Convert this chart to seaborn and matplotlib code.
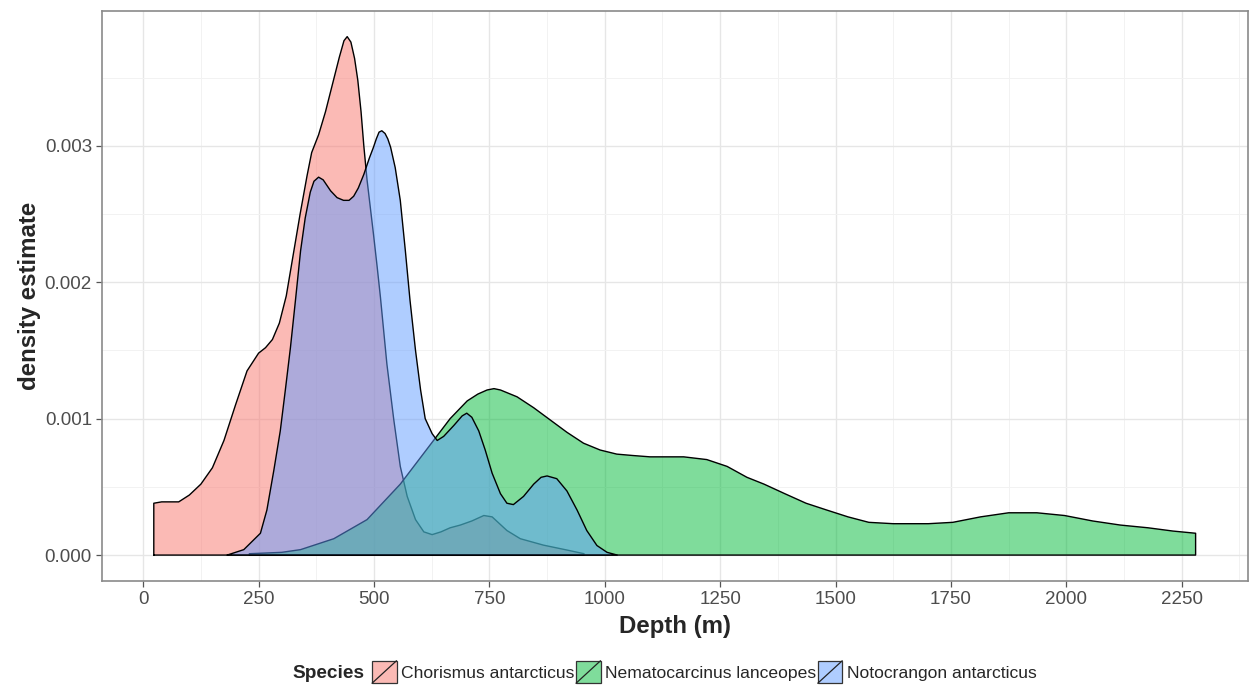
import numpy as np
import pandas as pd
import seaborn as sns
import matplotlib
matplotlib.use("Agg")
import matplotlib.pyplot as plt
from matplotlib.patches import Patch, Rectangle
from matplotlib.lines import Line2D
from matplotlib.legend_handler import HandlerBase
from matplotlib.colors import to_rgba

# Kernel density estimates of depth per species (depth in m, density per m)
species = ["Chorismus antarcticus", "Nematocarcinus lanceopes", "Notocrangon antarcticus"]
colors = ["#F8766D", "#00BA38", "#619CFF"]

chorismus_depth = [23, 40, 77, 100, 125, 150, 175, 200, 225, 250, 265, 280, 295, 310,
                   325, 340, 355, 365, 380, 395, 410, 425, 435, 442, 450, 458, 465,
                   472, 478, 485, 492, 499, 507, 514, 528, 543, 557, 572, 590, 608,
                   626, 645, 665, 687, 712, 738, 756, 788, 817, 867, 918, 955]
chorismus_dens = [0.00038, 0.00039, 0.00039, 0.00044, 0.00052, 0.00064, 0.00084, 0.00110,
                  0.00135, 0.00148, 0.00152, 0.00158, 0.00170, 0.00190, 0.00220, 0.00250,
                  0.00278, 0.00295, 0.00308, 0.00325, 0.00345, 0.00365, 0.00377, 0.00380,
                  0.00376, 0.00364, 0.00348, 0.00325, 0.00300, 0.00275, 0.00255, 0.00235,
                  0.00211, 0.00189, 0.00140, 0.00099, 0.00065, 0.00043, 0.00026, 0.00017,
                  0.00015, 0.00017, 0.00020, 0.00022, 0.00025, 0.00029, 0.00028, 0.00018,
                  0.00012, 0.000073, 0.000037, 0.00001]

nematocarcinus_depth = [230, 300, 341, 413, 485, 557, 593, 629, 665, 702, 725, 745, 760,
                        774, 810, 846, 882, 918, 954, 990, 1026, 1060, 1098, 1135, 1171,
                        1221, 1265, 1308, 1345, 1390, 1436, 1481, 1527, 1572, 1625, 1701,
                        1754, 1814, 1875, 1936, 1996, 2057, 2117, 2177, 2231, 2280]
nematocarcinus_dens = [0.00001, 0.00002, 0.00004, 0.00012, 0.00026, 0.00052, 0.00068,
                       0.00084, 0.00100, 0.00113, 0.00118, 0.00121, 0.00122, 0.00121,
                       0.00116, 0.00108, 0.00099, 0.00090, 0.00082, 0.00077, 0.00074,
                       0.00073, 0.00072, 0.00072, 0.00072, 0.00070, 0.00065, 0.00057,
                       0.00052, 0.00045, 0.00038, 0.00033, 0.00028, 0.00024, 0.00023,
                       0.00023, 0.00024, 0.00028, 0.00031, 0.00031, 0.00029, 0.00025,
                       0.00022, 0.00020, 0.000176, 0.00016]

notocrangon_depth = [182, 218, 254, 268, 283, 297, 308, 319, 330, 341, 351, 362, 370,
                     380, 390, 406, 420, 434, 446, 456, 466, 478, 490, 499, 505, 511,
                     517, 524, 530, 536, 546, 557, 568, 578, 590, 601, 611, 626, 637,
                     651, 673, 691, 701, 712, 727, 741, 756, 774, 788, 802, 824, 846,
                     862, 875, 896, 918, 940, 961, 983, 1005, 1027]
notocrangon_dens = [0.0, 0.00004, 0.00016, 0.00033, 0.00062, 0.00091, 0.00121, 0.00152,
                    0.00187, 0.00223, 0.00247, 0.00266, 0.00274, 0.00277, 0.00275,
                    0.00267, 0.00262, 0.00260, 0.00260, 0.00263, 0.00269, 0.00279,
                    0.00291, 0.00299, 0.00305, 0.00310, 0.00311, 0.00309, 0.00305,
                    0.00299, 0.00284, 0.00260, 0.00223, 0.00187, 0.00150, 0.00121,
                    0.00100, 0.00089, 0.00084, 0.00087, 0.00095, 0.00102, 0.00104,
                    0.00101, 0.00091, 0.00077, 0.00060, 0.00045, 0.00038, 0.00037,
                    0.00043, 0.00052, 0.00057, 0.00058, 0.00056, 0.00047, 0.00033,
                    0.00018, 0.00007, 0.00002, 0.0]

x_ticks = [0, 250, 500, 750, 1000, 1250, 1500, 1750, 2000, 2250]
y_ticks = [0.000, 0.001, 0.002, 0.003]

curves = [(chorismus_depth, chorismus_dens),
          (nematocarcinus_depth, nematocarcinus_dens),
          (notocrangon_depth, notocrangon_dens)]

sns.set_theme(style="white")
plt.rcParams["font.family"] = ["Liberation Sans", "DejaVu Sans"]

W, H = 1249, 687
fig = plt.figure(figsize=(W / 100, H / 100), dpi=100)
ax = fig.add_axes([101.7 / W, 1 - 581 / H, (1247.7 - 101.7) / W, (581 - 10.7) / H])


class SlashKey(HandlerBase):
    """Filled legend key with a diagonal stroke, as in a density-area key."""
    def create_artists(self, legend, orig_handle, xdescent, ydescent,
                       width, height, fontsize, trans):
        x0, y0 = -xdescent, -ydescent
        box = Rectangle((x0, y0), width, height,
                        facecolor=orig_handle.get_facecolor(),
                        edgecolor="#333333", lw=0.9, transform=trans)
        slash = Line2D([x0, x0 + width], [y0, y0 + height],
                       color="#222222", lw=0.9, transform=trans)
        return [box, slash]


handles = []
for i, ((xs, ys), name, col) in enumerate(zip(curves, species, colors)):
    z = 2 + 2 * i
    ax.fill_between(xs, ys, 0, facecolor=to_rgba(col, 0.5), edgecolor="none", zorder=z)
    # closed outline: baseline, curve, back down to baseline
    ox = [xs[0]] + list(xs) + [xs[-1], xs[0]]
    oy = [0.0] + list(ys) + [0.0, 0.0]
    outline = pd.DataFrame({"depth": ox, "density": oy})
    sns.lineplot(data=outline, x="depth", y="density", sort=False, estimator=None,
                 color="black", lw=1.0, ax=ax, zorder=z + 1)
    handles.append(Patch(facecolor=to_rgba(col, 0.5), label=name))

# limits with 5% expansion around the data range
xmin, xmax = 23, 2280
ymax = 0.0038
xlim = (xmin - 0.05 * (xmax - xmin), xmax + 0.05 * (xmax - xmin))

ax.set_xticks(x_ticks)
ax.set_xticklabels([str(t) for t in x_ticks])
ax.set_yticks(y_ticks)
ax.set_yticklabels([f"{t:.3f}" for t in y_ticks])
ax.set_xticks([125 + 250 * k for k in range(-1, 10)], minor=True)
ax.set_yticks([0.0005, 0.0015, 0.0025, 0.0035], minor=True)
ax.set_xlim(*xlim)
ax.set_ylim(-0.05 * ymax, ymax * 1.05)

ax.grid(True, which="major", color="#E6E6E6", lw=1.0, zorder=0)
ax.grid(True, which="minor", color="#F2F2F2", lw=0.7, zorder=0)
ax.set_axisbelow(True)
ax.tick_params(axis="both", which="major", direction="out", length=4, width=0.9,
               color="#555555", labelsize=13.5, labelcolor="#4D4D4D", pad=3,
               bottom=True, left=True)
ax.tick_params(axis="both", which="minor", length=0)
for s in ax.spines.values():
    s.set_color("#8A8A8A")
    s.set_linewidth(1.2)

ax.set_xlabel("Depth (m)", fontsize=17.3, fontweight="bold", labelpad=5)
ax.set_ylabel("density estimate", fontsize=17.3, fontweight="bold", labelpad=3)

leg = fig.legend(handles=handles, labels=species, handler_map={Patch: SlashKey()},
                 loc="center left", bbox_to_anchor=(372 / W, 1 - 672 / H),
                 ncol=3, frameon=False, fontsize=12.6, handlelength=1.4,
                 handleheight=1.6, handletextpad=0.25, columnspacing=0.1,
                 borderpad=0, borderaxespad=0)
fig.text(364 / W, 1 - 673 / H, "Species", fontsize=13.7, fontweight="bold",
         ha="right", va="center")

fig.savefig("out.png", dpi=100, facecolor="white")
